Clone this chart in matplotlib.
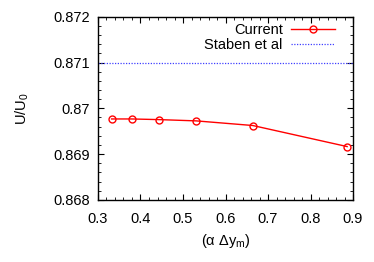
import matplotlib
matplotlib.use("Agg")
import matplotlib.pyplot as plt
from matplotlib.ticker import MultipleLocator, FormatStrFormatter

plt.rcParams['font.family'] = ['Liberation Sans', 'DejaVu Sans']
plt.rcParams['mathtext.fontset'] = 'custom'
plt.rcParams['mathtext.rm'] = 'Liberation Sans'
plt.rcParams['mathtext.it'] = 'Liberation Sans'

x_current = [0.332, 0.379, 0.443, 0.531, 0.664, 0.886]
y_current = [0.869768, 0.869768, 0.869754, 0.869726, 0.869625, 0.869165]
staben_value = 0.871
xticks = [0.3, 0.4, 0.5, 0.6, 0.7, 0.8, 0.9]
yticks = [0.868, 0.869, 0.870, 0.871, 0.872]

fig = plt.figure(figsize=(3.74, 2.62), dpi=100)
ax = fig.add_axes([0.262, 0.237, 0.682, 0.699])

ax.plot(x_current, y_current, color='red', lw=1.0, marker='o', ms=5,
        mfc='none', mec='red', mew=1.0, label='Current')
ax.axhline(staben_value, color=(0.25, 0.25, 1.0), lw=0.9, ls=(0, (1, 1.2)), label='Staben et al')

ax.set_xlim(0.3, 0.9)
ax.set_ylim(0.868, 0.872)
ax.set_xticks(xticks)
ax.set_yticks(yticks)
ax.set_yticklabels(['0.868', '0.869', '0.87', '0.871', '0.872'])
ax.xaxis.set_major_formatter(FormatStrFormatter('%.1f'))
ax.xaxis.set_minor_locator(MultipleLocator(0.02))
ax.yaxis.set_minor_locator(MultipleLocator(0.0002))
ax.tick_params(which='both', direction='in', top=True, right=True, labelsize=10.5)
ax.tick_params(axis='y', which='major', pad=6)
ax.tick_params(axis='x', which='major', pad=9)
ax.tick_params(which='major', length=4, width=0.8)
ax.tick_params(which='minor', length=2, width=0.6)
for s in ax.spines.values():
    s.set_linewidth(1.0)

ax.set_xlabel(r'($\alpha$ $\Delta$y$_{\mathrm{m}}$)', fontsize=10.5, labelpad=4)
ax.set_ylabel(r'U/U$_0$', fontsize=10.5, labelpad=16)

leg = ax.legend(loc='upper right', bbox_to_anchor=(0.93, 0.968), frameon=False,
                markerfirst=False, fontsize=10.5, borderpad=0, borderaxespad=0,
                handlelength=3.0, labelspacing=0.1, handletextpad=0.6)
for t in leg.get_texts():
    t.set_ha('right')

fig.savefig('out.png', dpi=100)
